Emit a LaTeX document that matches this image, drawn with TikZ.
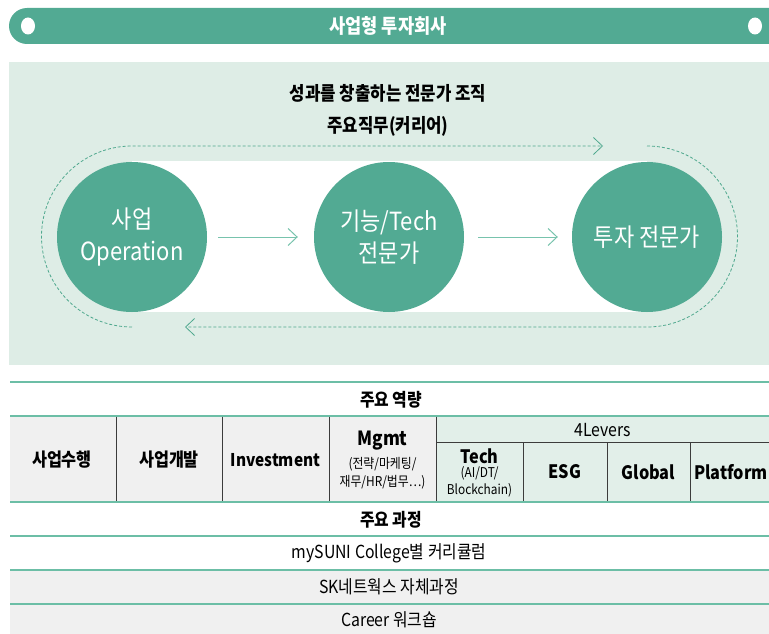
\documentclass[tikz,border=0pt]{standalone}
\usepackage{fontspec}
\setmainfont[FakeStretch=0.88]{Noto Sans CJK KR}
\usetikzlibrary{arrows.meta}
\definecolor{mgreen}{RGB}{82,170,147}
\definecolor{panel}{RGB}{222,237,230}
\definecolor{arrowc}{RGB}{120,195,173}
\definecolor{dashc}{RGB}{79,168,142}
\definecolor{tline}{RGB}{108,190,166}
\definecolor{lever}{RGB}{226,239,233}
\definecolor{greyc}{RGB}{240,240,240}
\definecolor{vline}{RGB}{60,60,60}
\tikzset{
  bigcirc/.style={circle,fill=mgreen,minimum size=150pt,inner sep=0pt,text=white,align=center,font=\fontsize{25}{32}\selectfont},
  flowarrow/.style={draw=arrowc,line width=1pt,-{Straight Barb[length=9pt,width=17pt,line width=1pt]}},
  loopline/.style={draw=dashc,line width=0.8pt,dash pattern=on 3pt off 2pt,-{Straight Barb[length=9pt,width=17pt,line width=0.8pt]}},
  hline/.style={draw=tline,line width=1.3pt},
  vsep/.style={draw=vline,line width=0.8pt},
  ttitle/.style={font=\fontsize{19}{22}\selectfont\bfseries,inner sep=0pt},
  thead/.style={font=\fontsize{18}{22}\selectfont\bfseries,inner sep=0pt},
  tcell/.style={font=\fontsize{18.5}{22}\selectfont\bfseries,inner sep=0pt},
  tsmall/.style={font=\fontsize{13.5}{17.5}\selectfont,inner sep=0pt,align=center},
  trow/.style={font=\fontsize{18}{22}\selectfont,inner sep=0pt}
}
\begin{document}
\begin{tikzpicture}[x=1pt,y=-1pt]
\useasboundingbox (0,0) rectangle (769,634);
% banner
\fill[mgreen,rounded corners=18pt] (9,8) rectangle (790,44);
\fill[white] (28,26) ellipse (7pt and 8.5pt);
\fill[white] (755,26) ellipse (7pt and 8.5pt);
\node[text=white,font=\fontsize{20}{24}\selectfont\bfseries] (banner) at (388,26) {사업형 투자회사};
% panel
\fill[panel] (9,62) rectangle (769,365);
\node[ttitle] (t1) at (388,93) {성과를 창출하는 전문가 조직};
\node[ttitle] (t2) at (388,126) {주요직무(커리어)};
\fill[white] (132,161) rectangle (647,312);
\node[bigcirc] (c1) at (132,237) {사업\\Operation};
\node[bigcirc] (c2) at (389,237) {기능/Tech\\전문가};
\node[bigcirc] (c3) at (647,237) {투자 전문가};
\draw[flowarrow,shorten <=11pt,shorten >=16pt] (c1) -- (c2);
\draw[flowarrow,shorten <=14pt,shorten >=14pt] (c2) -- (c3);
\coordinate (la) at (132,327);
\coordinate (lb) at (603,146);
\coordinate (ra) at (647,146);
\coordinate (rb) at (185,327);
\draw[loopline] (la) arc[start angle=270,end angle=90,radius=90.5pt] -- (lb);
\draw[loopline] (ra) arc[start angle=90,end angle=-90,radius=90.5pt] -- (rb);
% table fills
\fill[greyc] (10,416) rectangle (436,502);
\fill[lever] (436,416) rectangle (769,502);
\fill[greyc] (10,570) rectangle (769,634);
% table lines
\foreach \yy in {382,416,502,536,570,604} \draw[hline] (10,\yy) -- (769,\yy);
\foreach \xx in {116,222,329,436} \draw[vsep] (\xx,416.7) -- (\xx,501.3);
\foreach \xx in {523,607,690} \draw[vsep] (\xx,442) -- (\xx,501.3);
\draw[vsep] (436,442) -- (769,442);
% table texts
\node[thead] (h1) at (391,400) {주요 역량};
\node[tcell] (a1) at (62,460) {사업수행};
\node[tcell] (a2) at (169,460) {사업개발};
\node[tcell,font=\fontsize{17.5}{22}\selectfont\bfseries] (a3) at (275.5,460) {Investment};
\node[tcell,font=\fontsize{19.5}{22}\selectfont\bfseries] (a4) at (382.5,441) {Mgmt};
\node[tsmall] (a4s) at (382.5,473) {(전략/마케팅/\\재무/HR/법무…)};
\node[trow] (lv) at (603,430) {4Levers};
\node[tcell] (b1) at (479.5,456) {Tech};
\node[tsmall] (b1s) at (479.5,482) {(AI/DT/\\Blockchain)};
\node[tcell] (b2) at (565,472) {ESG};
\node[tcell] (b3) at (648.5,472) {Global};
\node[tcell] (b4) at (731,472) {Platform};
\node[thead] (h2) at (391,520) {주요 과정};
\node[trow] (r1) at (389,553) {mySUNI College별 커리큘럼};
\node[trow] (r2) at (389,587) {SK네트웍스 자체과정};
\node[trow] (r3) at (389,620) {Career 워크숍};
\end{tikzpicture}
\end{document}
